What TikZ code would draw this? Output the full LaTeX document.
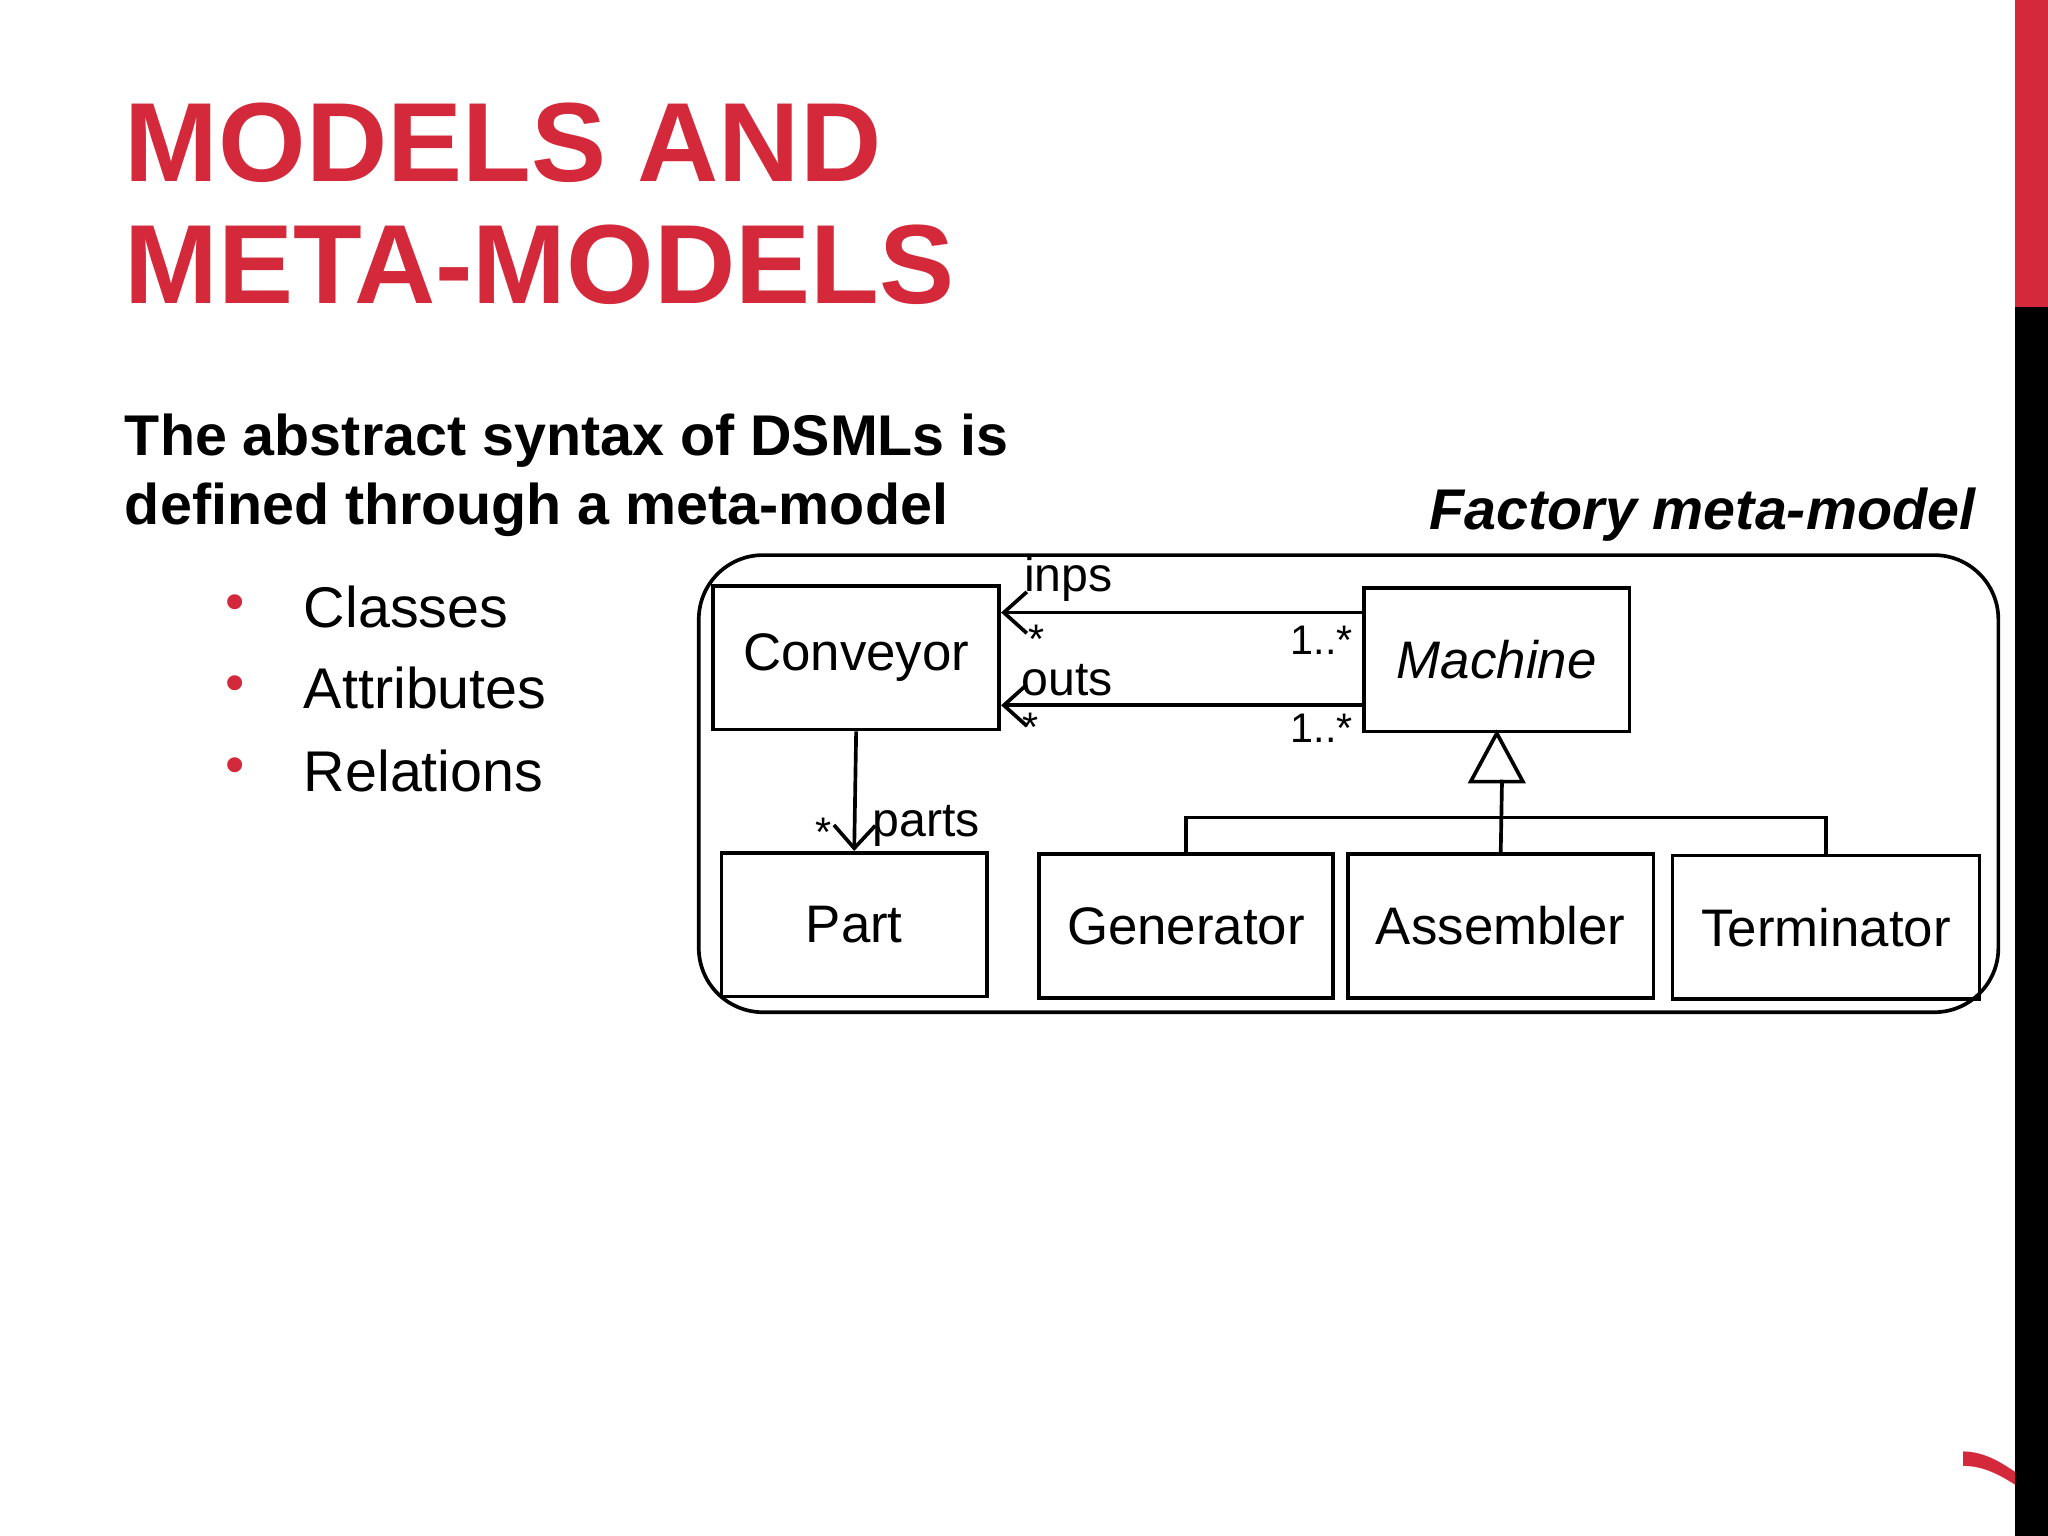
\documentclass[tikz,border=0pt]{standalone}
\usepackage{fontspec}
\setmainfont{Liberation Sans}
\usetikzlibrary{arrows.meta}
\definecolor{slidered}{HTML}{D4293A}
\tikzset{
  cls/.style={draw, thick, inner sep=0pt, minimum height=1.1cm, font=\fontsize{11.5}{13}\selectfont},
  lbl/.style={inner sep=1pt, font=\fontsize{9}{10}\selectfont},
  assoc/.style={thick, -{Straight Barb[length=5pt,width=9pt]}},
}
\begin{document}
\begin{tikzpicture}[x=0.01cm,y=-0.01cm]
\useasboundingbox (0,0) rectangle (1568,1176);
\fill[white] (0,0) rectangle (1568,1176);
% side bar
\node[text=slidered, rotate=-90, font=\bfseries\fontsize{22}{22}\selectfont, inner sep=0pt] (pg) at (1530,1122) {7};
\fill[slidered] (1543,0) rectangle (1568,235);
\fill[black] (1543,235) rectangle (1568,1176);
% title
\node[anchor=north west, align=left, text=slidered, inner sep=0pt,
  font=\bfseries\fontsize{24.5}{26.5}\selectfont] (title) at (95,78) {MODELS AND\\META-MODELS};
\node[anchor=north west, align=left, inner sep=0pt,
  font=\bfseries\fontsize{12.5}{15}\selectfont] (sub) at (95,316) {The abstract syntax of DSMLs is\\defined through a meta-model};
\foreach \t/\y [count=\i] in {Classes/465, Attributes/527, Relations/590}{
  \node[text=slidered, font=\fontsize{12}{12}\selectfont] (b\i) at (180,\y) {\textbullet};
  \node[anchor=west, inner sep=0pt, font=\fontsize{12.5}{14}\selectfont] (it\i) at (232,\y) {\t};
}
% diagram
\node[anchor=south east, inner sep=0pt, font=\bfseries\itshape\fontsize{12.5}{14}\selectfont] (ftitle) at (1513,415) {Factory meta-model};
\draw[thick, rounded corners=14] (535,425) rectangle (1530,775);
\node[cls, minimum width=2.19cm] (conv) at (655.5,503.5) {Conveyor};
\node[cls, minimum width=2.03cm, font=\itshape\fontsize{11.5}{13}\selectfont] (mach) at (1146,505) {Machine};
\node[cls, minimum width=2.03cm] (part) at (654,708) {Part};
\node[cls, minimum width=2.25cm] (gen) at (908,709) {Generator};
\node[cls, minimum width=2.34cm] (asm) at (1149,709) {Assembler};
\node[cls, minimum width=2.35cm] (term) at (1398,710) {Terminator};
\coordinate (ci) at (conv.east |- 0,469);
\coordinate (co) at (conv.east |- 0,540);
\draw[assoc] (mach.west |- ci) -- (ci);
\draw[assoc] (mach.west |- co) -- (co);
\node[lbl, anchor=south west, font=\fontsize{10.5}{12}\selectfont] at (780,465) {inps};
\node[lbl, anchor=north west] at (783,474) {*};
\node[lbl, anchor=south east] at (1040,505) {1..*};
\node[lbl, anchor=south west, font=\fontsize{10.5}{12}\selectfont] at (778,537) {outs};
\node[lbl, anchor=north west] at (779,542) {*};
\node[lbl, anchor=south east] at (1040,573) {1..*};
\draw[assoc] (conv.south) -- (part.north);
\node[lbl, anchor=south west, font=\fontsize{10.5}{12}\selectfont] at (664,652) {parts};
\node[lbl, anchor=south east] at (641,652) {*};
% generalisation
\coordinate (tri) at (1150,597);
\draw[thick] (mach.south) -- ++(-20,37) -- ++(40,0) -- cycle;
\draw[thick] (tri) -- (asm.north);
\draw[thick] (gen.north) -- (908,626) -- (1398,626) -- (term.north);
\end{tikzpicture}
\end{document}
